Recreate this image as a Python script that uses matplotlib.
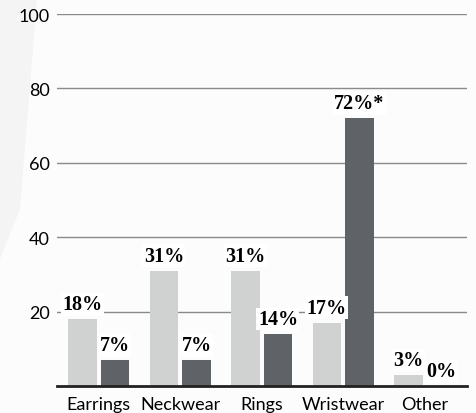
import matplotlib.pyplot as plt
import numpy as np
from matplotlib.patches import Polygon

categories = ["Earrings", "Neckwear", "Rings", "Wristwear", "Other"]
light_values = [18, 31, 31, 17, 3]
dark_values = [7, 7, 14, 72, 0]
dark_notes = ["", "", "", "*", ""]
yticks = [20, 40, 60, 80, 100]

light_color = "#cfd2d1"
dark_color = "#5f6367"

fig = plt.figure(figsize=(4.76, 4.14), dpi=100)
fig.patch.set_facecolor("#fcfcfc")

# faint grey wedge on the left side of the background
wedge = Polygon([(0, 1), (37 / 476, 1), (20 / 476, 1 - 210 / 414), (0, 1 - 260 / 414)],
                closed=True, transform=fig.transFigure, facecolor="#f4f4f4",
                edgecolor="none", zorder=-5)
fig.patches.append(wedge)

ax = fig.add_axes([57 / 476, 1 - 387 / 414, 410 / 476, 372 / 414])
ax.set_facecolor("none")
ax.set_zorder(2)

x = np.arange(len(categories))
w = 0.35
ax.bar(x - 0.2, light_values, w, color=light_color, zorder=3)
ax.bar(x + 0.2, dark_values, w, color=dark_color, zorder=3)

for xi, v in zip(x, light_values):
    ax.annotate(f"{v}%", (xi - 0.2, v), xytext=(0, 3.5), textcoords="offset points",
                ha="center", va="bottom", fontsize=14.5, fontweight="bold",
                family="Liberation Serif", zorder=4,
                bbox=dict(facecolor="white", edgecolor="none", pad=1.0))
for xi, v, n in zip(x, dark_values, dark_notes):
    ax.annotate(f"{v}%{n}", (xi + 0.2, v), xytext=(0, 3.5), textcoords="offset points",
                ha="center", va="bottom", fontsize=14.5, fontweight="bold",
                family="Liberation Serif", zorder=4,
                bbox=dict(facecolor="white", edgecolor="none", pad=1.0))

ax.set_xlim(-0.512, 4.52)
ax.set_ylim(0, 100)
ax.set_yticks(yticks)
ax.set_yticklabels([str(t) for t in yticks], fontsize=13, family="Lato")
ax.set_xticks(x)
ax.set_xticklabels(categories, fontsize=13, family="Lato")
ax.tick_params(axis="y", length=0, pad=5)
ax.tick_params(axis="x", length=0, pad=7)
ax.grid(axis="y", color="#8a8a8a", linewidth=1.0, zorder=1)
ax.set_axisbelow(True)
for s in ["top", "right", "left"]:
    ax.spines[s].set_visible(False)
ax.spines["bottom"].set_color("#222222")
ax.spines["bottom"].set_linewidth(2)
ax.spines["bottom"].set_zorder(5)

plt.savefig("out.png", dpi=100, facecolor=fig.get_facecolor())
